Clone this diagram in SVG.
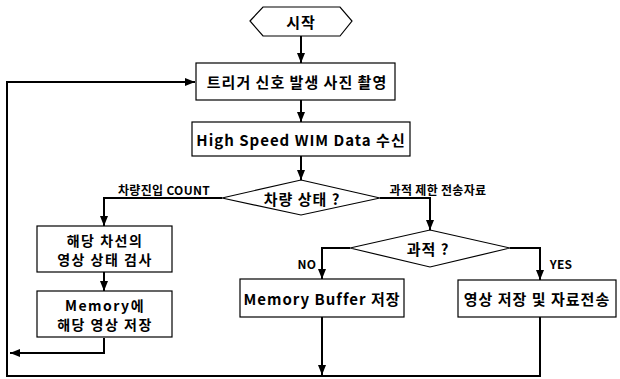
<svg xmlns="http://www.w3.org/2000/svg" width="620" height="379" viewBox="0 0 620 379">
<defs>
<style>
.box{fill:#fff;stroke:#000;stroke-width:1.2}
.t{font-family:"Noto Sans CJK KR","Noto Sans",sans-serif;font-weight:700;font-size:15px;letter-spacing:1px;fill:#000;text-anchor:middle;dominant-baseline:central}
.t2{font-family:"Noto Sans CJK KR","Noto Sans",sans-serif;font-weight:700;font-size:14px;letter-spacing:1.5px;fill:#000;text-anchor:middle;dominant-baseline:central}
.lbl{font-family:"Noto Sans CJK KR","Noto Sans",sans-serif;font-weight:700;font-size:12px;letter-spacing:0.3px;fill:#000;text-anchor:middle;dominant-baseline:central}
.c{fill:none;stroke:#000;stroke-width:2}
</style>
<marker id="ah" markerUnits="userSpaceOnUse" markerWidth="10" markerHeight="10" viewBox="0 0 10 10" refX="10" refY="5" orient="auto">
<path d="M0,1 L10,5 L0,9 Z" fill="#000"/>
</marker>
</defs>
<rect width="620" height="379" fill="#fff"/>
<g id="connectors">
<path class="c" d="M301,36 V63" marker-end="url(#ah)"/>
<path class="c" d="M301,100 V122" marker-end="url(#ah)"/>
<path class="c" d="M301,156 V180" marker-end="url(#ah)"/>
<path class="c" d="M222,198 H104 V226" marker-end="url(#ah)"/>
<path class="c" d="M104,272 V291" marker-end="url(#ah)"/>
<path class="c" d="M104,338 V353 H10" marker-end="url(#ah)"/>
<path class="c" d="M380,198 H430 V230" marker-end="url(#ah)"/>
<path class="c" d="M350,248 H322 V279" marker-end="url(#ah)"/>
<path class="c" d="M510,248 H540 V280" marker-end="url(#ah)"/>
<path class="c" d="M322,317 V375" marker-end="url(#ah)"/>
<path class="c" d="M540,317 V376 H7 V82 H195" marker-end="url(#ah)"/>
<text class="lbl" x="164" y="189">차량진입 COUNT</text>
<text class="lbl" x="438" y="189">과적 제한 전송자료</text>
<text class="lbl" x="307" y="263">NO</text>
<text class="lbl" x="561" y="263">YES</text>
</g>
<g id="start">
<polygon class="box" points="250,21 263,7 340,7 352,21 340,36 263,36"/>
<text class="t" x="301" y="21">시작</text>
</g>
<g id="capture">
<rect class="box" x="196" y="63" width="199" height="37"/>
<text class="t" x="297" y="81.5">트리거 신호 발생 사진 촬영</text>
</g>
<g id="receive">
<rect class="box" x="192" y="122" width="218" height="34"/>
<text class="t" x="301" y="139">High Speed WIM Data 수신</text>
</g>
<g id="vehicle-state">
<polygon class="box" points="301,180 380,198 301,215 222,198"/>
<text class="t" x="302" y="198">차량 상태 ?</text>
</g>
<g id="lane-check">
<rect class="box" x="37" y="226" width="135" height="46"/>
<text class="t2" x="105" y="240">해당 차선의</text>
<text class="t2" x="105" y="259">영상 상태 검사</text>
</g>
<g id="memory-save">
<rect class="box" x="37" y="291" width="135" height="46"/>
<text class="t2" x="105" y="305">Memory에</text>
<text class="t2" x="105" y="324">해당 영상 저장</text>
</g>
<g id="overload">
<polygon class="box" points="430,230 510,248 430,267 350,248"/>
<text class="t" x="428" y="248">과적 ?</text>
</g>
<g id="buffer">
<rect class="box" x="240" y="279" width="164" height="38"/>
<text class="t" x="322" y="298">Memory Buffer 저장</text>
</g>
<g id="transmit">
<rect class="box" x="458" y="280" width="158" height="37"/>
<text class="t" x="537" y="298.5">영상 저장 및 자료전송</text>
</g>
</svg>
